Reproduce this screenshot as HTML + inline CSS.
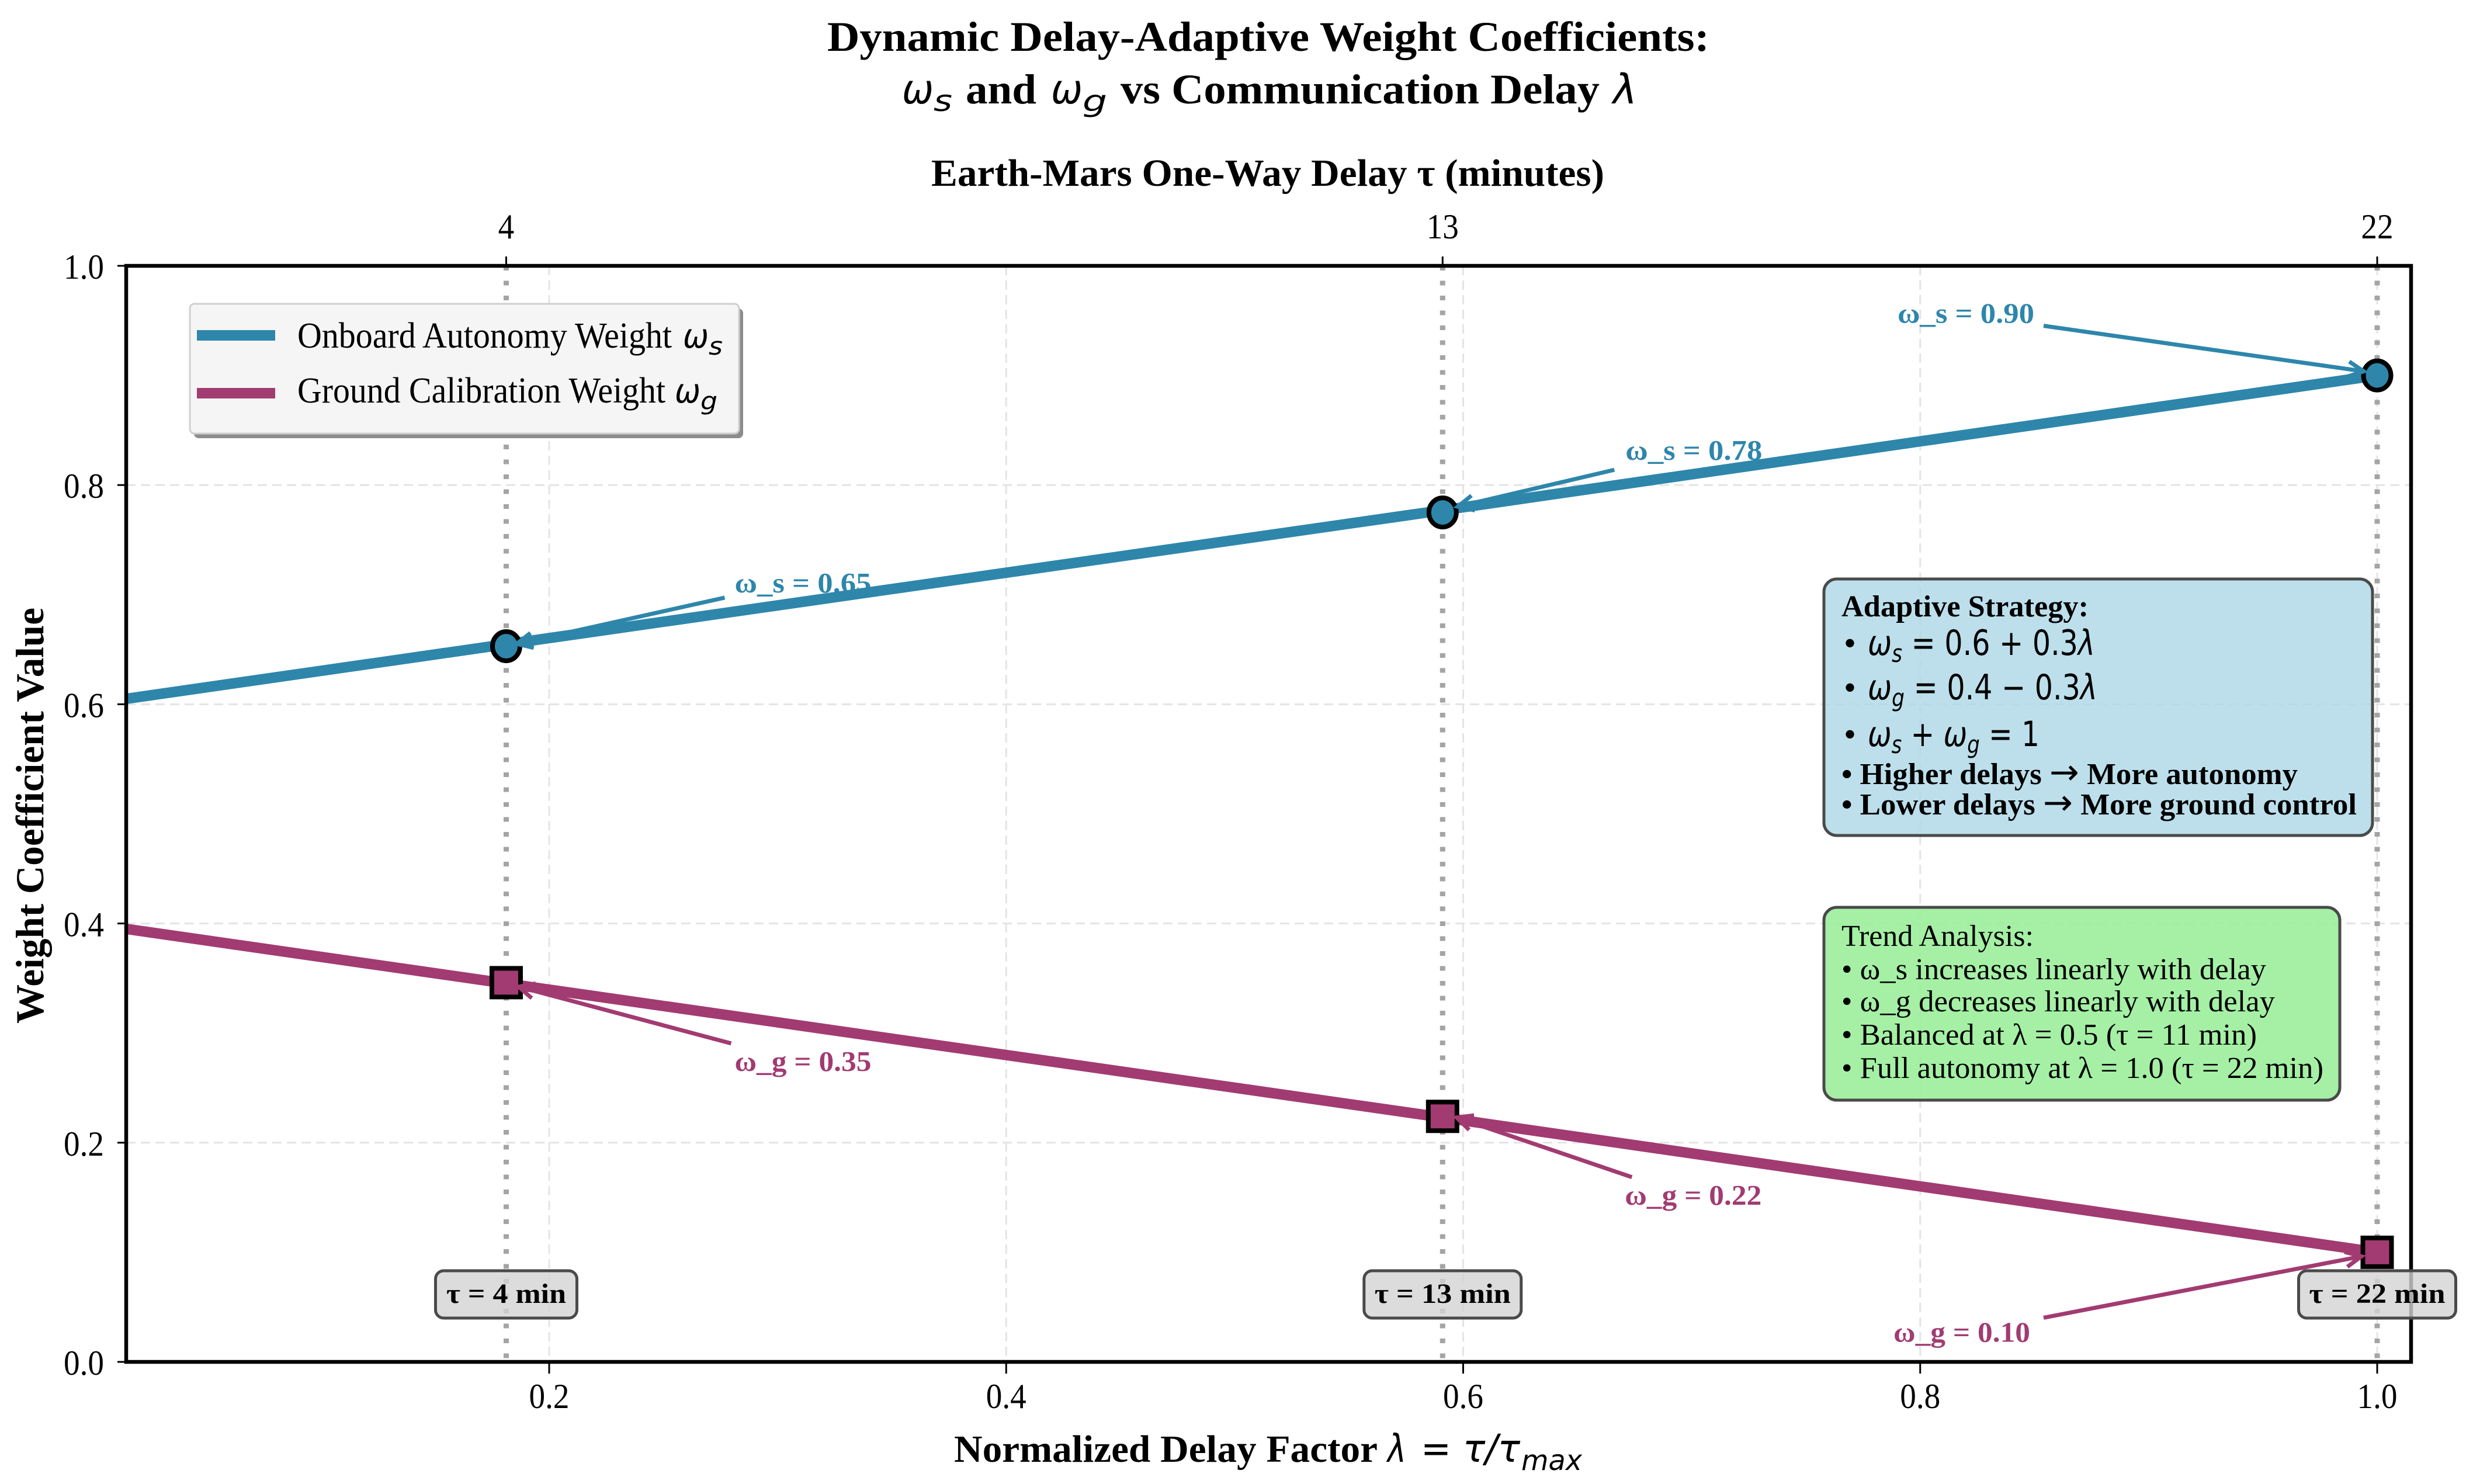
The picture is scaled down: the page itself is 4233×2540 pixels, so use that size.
<!DOCTYPE html>
<html lang="en">
<head>
<meta charset="utf-8">
<title>Dynamic Delay-Adaptive Weight Coefficients</title>
<style>
html,body{margin:0;padding:0;background:#fff;}
svg{display:block;}
text{font-family:"Liberation Serif","DejaVu Serif",serif;fill:#000;}
.b{font-weight:bold;}
.m{font-family:"DejaVu Sans",sans-serif;font-style:italic;font-weight:normal;}
.n{font-family:"DejaVu Sans",sans-serif;font-style:normal;font-weight:normal;}
</style>
</head>
<body>
<svg id="chart" xmlns="http://www.w3.org/2000/svg" width="4233" height="2540" viewBox="0 0 4233 2540">
<rect x="0" y="0" width="4233" height="2540" fill="#fff"/>
<defs><clipPath id="plot-clip"><rect x="216" y="455" width="3911" height="1876"/></clipPath></defs>

<text class="b" x="1416" y="87" font-size="72" textLength="1510" lengthAdjust="spacingAndGlyphs">Dynamic Delay-Adaptive Weight Coefficients:</text>
<text class="m" x="1544" y="177" font-size="70" textLength="54" lengthAdjust="spacingAndGlyphs">ω</text>
<text class="m" x="1598" y="190" font-size="50" textLength="32" lengthAdjust="spacingAndGlyphs">s</text>
<text class="b" x="1653" y="177" font-size="72" textLength="121" lengthAdjust="spacingAndGlyphs">and</text>
<text class="m" x="1799" y="177" font-size="70" textLength="54" lengthAdjust="spacingAndGlyphs">ω</text>
<text class="m" x="1853" y="190" font-size="50" textLength="42" lengthAdjust="spacingAndGlyphs">g</text>
<text class="b" x="1918" y="177" font-size="72" textLength="820" lengthAdjust="spacingAndGlyphs">vs Communication Delay</text>
<text class="m" x="2761" y="177" font-size="70" textLength="41" lengthAdjust="spacingAndGlyphs">λ</text>

<text class="b" x="1594" y="318" font-size="66" textLength="1152" lengthAdjust="spacingAndGlyphs">Earth-Mars One-Way Delay τ (minutes)</text>
<text class="b" transform="translate(74,1752) rotate(-90)" x="0" y="0" font-size="68" textLength="712" lengthAdjust="spacingAndGlyphs">Weight Coefficient Value</text>
<text class="b" x="1633" y="2502" font-size="66" textLength="725" lengthAdjust="spacingAndGlyphs">Normalized Delay Factor</text>
<text class="m" x="2375" y="2502" font-size="66" textLength="32" lengthAdjust="spacingAndGlyphs">λ</text>
<text class="n" x="2432" y="2502" font-size="66" textLength="52" lengthAdjust="spacingAndGlyphs">=</text>
<text class="m" x="2504" y="2502" font-size="66" textLength="98" lengthAdjust="spacingAndGlyphs">τ/τ</text>
<text class="m" x="2604" y="2516" font-size="48" textLength="104" lengthAdjust="spacingAndGlyphs">max</text>

<g id="layer-plot"></g>

<g>
  <rect x="332" y="528" width="940" height="222" rx="8" fill="#8c8c8c"/>
  <rect x="325" y="520" width="940" height="222" rx="8" fill="#f5f5f5" stroke="#cfcfcf" stroke-width="3"/>
  <line x1="337" x2="471" y1="574" y2="574" stroke="#2E86AB" stroke-width="18"/>
  <text x="509" y="595" font-size="62" textLength="641" lengthAdjust="spacingAndGlyphs">Onboard Autonomy Weight</text>
  <text class="m" x="1169" y="595" font-size="58" textLength="44" lengthAdjust="spacingAndGlyphs">ω</text>
  <text class="m" x="1213" y="607" font-size="42" textLength="24" lengthAdjust="spacingAndGlyphs">s</text>
  <line x1="337" x2="471" y1="673" y2="673" stroke="#A23B72" stroke-width="18"/>
  <text x="509" y="689" font-size="62" textLength="630" lengthAdjust="spacingAndGlyphs">Ground Calibration Weight</text>
  <text class="m" x="1155" y="689" font-size="58" textLength="44" lengthAdjust="spacingAndGlyphs">ω</text>
  <text class="m" x="1199" y="701" font-size="42" textLength="29" lengthAdjust="spacingAndGlyphs">g</text>
</g>

<g>
  <rect x="3122" y="991" width="939" height="439" rx="22" fill="#ADD8E6" fill-opacity="0.82" stroke="#4a4a4a" stroke-width="5"/>
  <text class="b" x="3152" y="1055" font-size="52" textLength="423" lengthAdjust="spacingAndGlyphs">Adaptive Strategy:</text>
  <text x="3156" y="1121" font-size="60">•</text>
  <text x="3197" y="1121" font-size="60" textLength="389" lengthAdjust="spacingAndGlyphs"><tspan class="m">ω</tspan><tspan class="m" dy="12" font-size="42">s</tspan><tspan class="n" dy="-12"> = 0.6 + 0.3</tspan><tspan class="m">λ</tspan></text>
  <text x="3156" y="1197" font-size="60">•</text>
  <text x="3197" y="1197" font-size="60" textLength="393" lengthAdjust="spacingAndGlyphs"><tspan class="m">ω</tspan><tspan class="m" dy="12" font-size="42">g</tspan><tspan class="n" dy="-12"> = 0.4 − 0.3</tspan><tspan class="m">λ</tspan></text>
  <text x="3156" y="1277" font-size="60">•</text>
  <text x="3197" y="1277" font-size="60" textLength="294" lengthAdjust="spacingAndGlyphs"><tspan class="m">ω</tspan><tspan class="m" dy="12" font-size="42">s</tspan><tspan class="n" dy="-12"> + </tspan><tspan class="m">ω</tspan><tspan class="m" dy="12" font-size="42">g</tspan><tspan class="n" dy="-12"> = 1</tspan></text>
  <text class="b" x="3152" y="1342" font-size="52" textLength="781" lengthAdjust="spacingAndGlyphs">• Higher delays <tspan class="n" font-size="60">→</tspan> More autonomy</text>
  <text class="b" x="3152" y="1394" font-size="52" textLength="882" lengthAdjust="spacingAndGlyphs">• Lower delays <tspan class="n" font-size="60">→</tspan> More ground control</text>
</g>

<g>
  <rect x="3122" y="1553" width="883" height="330" rx="22" fill="#98EE98" fill-opacity="0.88" stroke="#4a4a4a" stroke-width="5"/>
  <text x="3152" y="1619" font-size="52" textLength="329" lengthAdjust="spacingAndGlyphs">Trend Analysis:</text>
  <text x="3152" y="1676" font-size="52" textLength="727" lengthAdjust="spacingAndGlyphs">• ω_s increases linearly with delay</text>
  <text x="3152" y="1731" font-size="52" textLength="742" lengthAdjust="spacingAndGlyphs">• ω_g decreases linearly with delay</text>
  <text x="3152" y="1788" font-size="52" textLength="711" lengthAdjust="spacingAndGlyphs">• Balanced at λ = 0.5 (τ = 11 min)</text>
  <text x="3152" y="1845" font-size="52" textLength="825" lengthAdjust="spacingAndGlyphs">• Full autonomy at λ = 1.0 (τ = 22 min)</text>
</g>

<g id="layer-tau"></g>
</svg>

<script>
// ---- chart data ----
var lineLambda = [0.015, 0.182, 0.591, 1.0];
var onboardWeight = [0.605, 0.655, 0.777, 0.90];
var groundWeight = [0.395, 0.345, 0.223, 0.10];
var delayMarkers = [0.1812, 0.591, 1.0];
var onboardPoints = [0.653, 0.775, 0.90];
var groundPoints = [0.346, 0.224, 0.10];
var delayMinutes = ['4', '13', '22'];
var onboardLabels = ['0.65', '0.78', '0.90'];
var groundLabels = ['0.35', '0.22', '0.10'];
var xTicks = [0.2, 0.4, 0.6, 0.8, 1.0];
var xTickLabels = ['0.2', '0.4', '0.6', '0.8', '1.0'];
var yTicks = [0.0, 0.2, 0.4, 0.6, 0.8, 1.0];
var yTickLabels = ['0.0', '0.2', '0.4', '0.6', '0.8', '1.0'];

// ---- axes ----
var LEFT = 216, RIGHT = 4127, TOP = 455, BOTTOM = 2331;
function xPos(v) { return 940 + (v - 0.2) * 3911.25; }
function yPos(v) { return BOTTOM - v * (BOTTOM - TOP); }

var NS = 'http://www.w3.org/2000/svg';
var plot = document.getElementById('layer-plot');
var tauLayer = document.getElementById('layer-tau');
function make(tag, attrs, parent, content) {
  var el = document.createElementNS(NS, tag);
  for (var k in attrs) { el.setAttribute(k, attrs[k]); }
  if (content !== undefined) { el.textContent = content; }
  parent.appendChild(el);
  return el;
}

// grid
xTicks.forEach(function (t) {
  var el = make('line', {x1: xPos(t), x2: xPos(t), y1: TOP, y2: BOTTOM, stroke: '#e4e4e4', 'stroke-width': 3, 'stroke-dasharray': '16 9'}, plot);
  
  
});
yTicks.forEach(function (t) {
  var el = make('line', {x1: LEFT, x2: RIGHT, y1: yPos(t), y2: yPos(t), stroke: '#e4e4e4', 'stroke-width': 3, 'stroke-dasharray': '16 9'}, plot);
  
  
});

// vertical delay reference lines
delayMarkers.forEach(function (v) {
  var el = make('line', {x1: xPos(v), x2: xPos(v), y1: TOP, y2: BOTTOM, stroke: '#a4a4a4', 'stroke-width': 9, 'stroke-dasharray': '8 17.5'}, plot);
  
  
});

// annotation layout offsets, relative to each marker (px)
var onboardTextOffset = [[391, -92], [313, -90], [-821, -90]];
var onboardTailOffset = [[374, -83], [294, -73], [-571, -85]];
var onboardHeadOffset = [[18, -4], [26, -10], [-23, -7]];
var groundTextOffset = [[391, 151], [312, 151], [-828, 153]];
var groundTailOffset = [[385, 104], [324, 104], [-571, 112]];
var groundHeadOffset = [[21, 7], [24, 2], [-27, 7]];

function drawLabel(points, i, prefix, value, color, offset) {
  var x = xPos(delayMarkers[i]) + offset[i][0];
  var y = yPos(points[i]) + offset[i][1];
  var el = make('text', {x: x, y: y, 'font-size': 49, 'font-weight': 'bold', style: 'fill:' + color, textLength: 234, lengthAdjust: 'spacingAndGlyphs'}, plot, prefix + ' = ' + value);
  
  
}
function drawArrow(points, i, color, tail, head) {
  var px = xPos(delayMarkers[i]), py = yPos(points[i]);
  var x1 = px + tail[i][0], y1 = py + tail[i][1], x2 = px + head[i][0], y2 = py + head[i][1];
  var a = Math.atan2(y1 - y2, x1 - x2), L = 30, s = 0.45;
  var d = 'M' + x1 + ' ' + y1 + 'L' + x2 + ' ' + y2 +
    'M' + (x2 + L * Math.cos(a + s)) + ' ' + (y2 + L * Math.sin(a + s)) + 'L' + x2 + ' ' + y2 +
    'L' + (x2 + L * Math.cos(a - s)) + ' ' + (y2 + L * Math.sin(a - s));
  var el = make('path', {d: d, fill: 'none', stroke: color, 'stroke-width': 7}, plot);
  
  
}

delayMarkers.forEach(function (v, i) {
  drawLabel(onboardPoints, i, 'ω_s', onboardLabels[i], '#2E86AB', onboardTextOffset);
  drawLabel(groundPoints, i, 'ω_g', groundLabels[i], '#A23B72', groundTextOffset);
});

// series lines
function linePoints(series) {
  return lineLambda.map(function (l, i) { return xPos(l) + ',' + yPos(series[i]); }).join(' ');
}
var onboardLine = make('polyline', {points: linePoints(onboardWeight), fill: 'none', stroke: '#2E86AB', 'stroke-width': 18, 'clip-path': 'url(#plot-clip)'}, plot);


var groundLine = make('polyline', {points: linePoints(groundWeight), fill: 'none', stroke: '#A23B72', 'stroke-width': 18, 'clip-path': 'url(#plot-clip)'}, plot);



// markers
delayMarkers.forEach(function (v, i) {
  var c = make('ellipse', {cx: xPos(v), cy: yPos(onboardPoints[i]), rx: 23.5, ry: 25, fill: '#2E86AB', stroke: '#000', 'stroke-width': 8}, plot);
  
  
  var s = make('rect', {x: xPos(v) - 24.5, y: yPos(groundPoints[i]) - 24.5, width: 49, height: 49, fill: '#A23B72', stroke: '#000', 'stroke-width': 8}, plot);
  
  
});
delayMarkers.forEach(function (v, i) {
  drawArrow(onboardPoints, i, '#2E86AB', onboardTailOffset, onboardHeadOffset);
  drawArrow(groundPoints, i, '#A23B72', groundTailOffset, groundHeadOffset);
});

// spines
var frame = make('rect', {x: LEFT, y: TOP, width: RIGHT - LEFT, height: BOTTOM - TOP, fill: 'none', stroke: '#000', 'stroke-width': 6.5}, plot);



// ticks and tick labels
xTicks.forEach(function (t, i) {
  var m = make('line', {x1: xPos(t), x2: xPos(t), y1: BOTTOM, y2: BOTTOM + 20, stroke: '#000', 'stroke-width': 3}, plot);
  
  
  var l = make('text', {transform: 'translate(' + xPos(t) + ',2410) scale(0.92,1)', 'text-anchor': 'middle', 'font-size': 60}, plot, xTickLabels[i]);
  
  
});
yTicks.forEach(function (t, i) {
  var m = make('line', {x1: LEFT - 15, x2: LEFT, y1: yPos(t), y2: yPos(t), stroke: '#000', 'stroke-width': 3}, plot);
  
  
  var l = make('text', {transform: 'translate(178,' + (yPos(t) + 22) + ') scale(0.92,1)', 'text-anchor': 'end', 'font-size': 60}, plot, yTickLabels[i]);
  
  
});
delayMarkers.forEach(function (v, i) {
  var m = make('line', {x1: xPos(v), x2: xPos(v), y1: TOP - 16, y2: TOP, stroke: '#000', 'stroke-width': 3}, plot);
  
  
  var l = make('text', {transform: 'translate(' + xPos(v) + ',408) scale(0.92,1)', 'text-anchor': 'middle', 'font-size': 60}, plot, delayMinutes[i]);
  
  

  // delay boxes
  var w = delayMinutes[i].length > 1 ? 269 : 242;
  var tw = delayMinutes[i].length > 1 ? 233 : 205;
  var b = make('rect', {x: xPos(v) - w / 2, y: 2175, width: w, height: 81, rx: 14, fill: '#d3d3d3', 'fill-opacity': 0.8, stroke: '#4a4a4a', 'stroke-width': 5}, tauLayer);
  
  
  var t = make('text', {x: xPos(v) - tw / 2, y: 2230, 'font-size': 48, 'font-weight': 'bold', textLength: tw, lengthAdjust: 'spacingAndGlyphs'}, tauLayer, 'τ = ' + delayMinutes[i] + ' min');
  
  
});
</script>
</body>
</html>
